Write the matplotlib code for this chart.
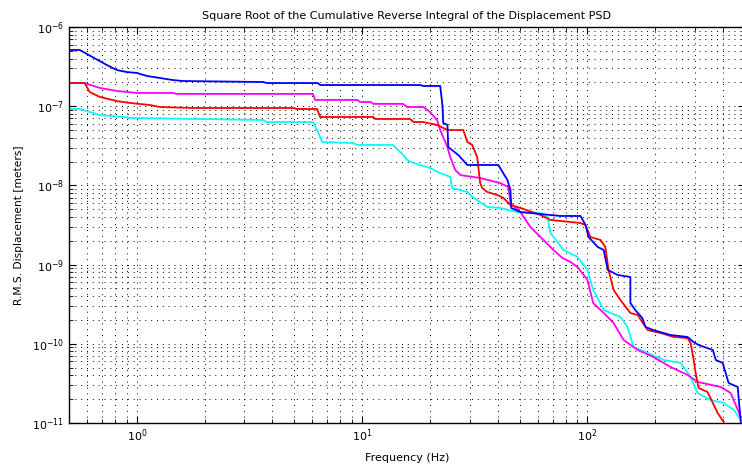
import matplotlib
matplotlib.use("Agg")
import matplotlib.pyplot as plt
from matplotlib.ticker import LogLocator, NullFormatter

# values (frequency in Hz, rms displacement in m)
blue_f = [0.5, 0.558, 0.736, 0.815, 0.903, 1.0, 1.107, 1.265, 1.445, 1.6, 3.63, 3.78, 6.37, 6.51,
          18.1, 18.7, 22.2, 22.7, 22.9, 23.9, 24.1, 26.7, 29.3, 40.2, 44.1, 45.5, 45.9, 50.4, 75.9,
          93.1, 98, 101, 111, 118, 123, 136, 155, 155, 163, 175, 181, 196, 234, 278, 296, 311,
          360, 371, 398, 423, 464, 479]
blue_v = [5.13e-7, 5.13e-7, 3.31e-7, 2.86e-7, 2.70e-7, 2.63e-7, 2.41e-7, 2.27e-7, 2.14e-7, 2.08e-7,
          2.02e-7, 1.96e-7, 1.96e-7, 1.85e-7, 1.85e-7, 1.80e-7, 1.80e-7, 1.035e-7, 6.14e-8, 5.79e-8,
          3.05e-8, 2.42e-8, 1.81e-8, 1.81e-8, 1.17e-8, 8.75e-9, 5.19e-9, 4.61e-9, 4.11e-9, 4.11e-9,
          3.16e-9, 2.23e-9, 1.67e-9, 1.53e-9, 8.55e-10, 7.40e-10, 6.97e-10, 3.27e-10, 2.67e-10,
          2.12e-10, 1.63e-10, 1.49e-10, 1.29e-10, 1.22e-10, 1.05e-10, 9.66e-11, 8.36e-11, 6.24e-11,
          5.73e-11, 3.20e-11, 2.85e-11, 1.03e-11]

red_f = [0.5, 0.587, 0.618, 0.685, 0.815, 0.93, 1.142, 1.265, 1.774, 4.94, 5.14, 6.31, 6.51, 11.2,
         11.4, 16.3, 16.9, 18.7, 21.5, 23.9, 28.1, 29.3, 30.8, 32.4, 33.4, 34.1, 35.9, 39.8, 42.4,
         45.5, 50.4, 61.8, 68.5, 93.1, 98, 103, 114, 120, 124, 130.6, 140, 155, 167, 175, 185, 211,
         241, 278, 287, 296, 302, 311, 341, 360, 378, 402]
red_v = [1.96e-7, 1.96e-7, 1.51e-7, 1.31e-7, 1.16e-7, 1.10e-7, 1.035e-7, 9.77e-8, 9.49e-8, 9.49e-8,
         9.22e-8, 9.22e-8, 7.31e-8, 7.31e-8, 6.90e-8, 6.90e-8, 6.31e-8, 6.31e-8, 5.79e-8, 5.00e-8,
         5.00e-8, 3.53e-8, 3.24e-8, 2.28e-8, 1.07e-8, 9.27e-9, 8.26e-9, 7.57e-9, 6.93e-9, 5.66e-9,
         5.19e-9, 4.23e-9, 3.66e-9, 3.35e-9, 3.16e-9, 2.23e-9, 2.05e-9, 1.67e-9, 8.55e-10, 4.78e-10,
         3.57e-10, 2.45e-10, 2.31e-10, 1.88e-10, 1.49e-10, 1.37e-10, 1.22e-10, 1.18e-10, 1.02e-10,
         6.24e-11, 4.28e-11, 2.77e-11, 2.46e-11, 1.79e-11, 1.34e-11, 1.03e-11]

magenta_f = [0.5, 0.587, 0.685, 0.815, 1.0, 1.445, 1.506, 6.05, 6.18, 9.5, 9.8, 10.9, 11.2, 15.2,
             15.85, 18.7, 20.0, 21.5, 22.2, 23.9, 24.6, 25.9, 27.3, 33.4, 41.0, 44.5, 45.5, 50.4,
             55.8, 61.8, 70.6, 77.4, 84.0, 90.3, 100, 106, 118, 130.6, 144.5, 167, 196, 234, 278,
             308, 390, 432, 459, 479]
magenta_v = [1.96e-7, 1.96e-7, 1.70e-7, 1.56e-7, 1.47e-7, 1.47e-7, 1.43e-7, 1.43e-7, 1.20e-7, 1.20e-7,
             1.13e-7, 1.13e-7, 1.07e-7, 1.07e-7, 9.77e-8, 9.77e-8, 8.45e-8, 6.70e-8, 5.00e-8, 3.05e-8,
             2.28e-8, 1.56e-8, 1.35e-8, 1.24e-8, 1.07e-8, 9.55e-9, 6.00e-9, 4.61e-9, 2.98e-9, 2.23e-9,
             1.53e-9, 1.21e-9, 1.08e-9, 9.33e-10, 6.39e-10, 3.27e-10, 2.45e-10, 1.83e-10, 1.12e-10,
             8.36e-11, 6.81e-11, 5.09e-11, 4.04e-11, 3.30e-11, 2.85e-11, 2.39e-11, 1.59e-11, 1.19e-11]

cyan_f = [0.5, 0.558, 0.618, 0.685, 0.96, 3.63, 3.78, 6.05, 6.37, 6.64, 9.12, 9.5, 13.7, 15.2, 15.85,
          16.9, 20.0, 22.2, 24.6, 25.1, 29.3, 30.8, 33.4, 35.9, 41.0, 48.8, 61.8, 66.4, 68.5, 78.2,
          90.3, 100, 106, 118, 140, 150.6, 160, 185, 218, 259, 287, 308, 352, 402, 446, 479]
cyan_v = [9.22e-8, 9.22e-8, 8.45e-8, 7.74e-8, 7.10e-8, 6.70e-8, 6.31e-8, 6.31e-8, 4.72e-8, 3.53e-8,
          3.43e-8, 3.24e-8, 3.24e-8, 2.42e-8, 2.09e-8, 1.92e-8, 1.66e-8, 1.43e-8, 1.28e-8, 9.27e-9,
          8.26e-9, 7.14e-9, 6.17e-9, 5.34e-9, 5.19e-9, 4.61e-9, 4.48e-9, 3.99e-9, 2.51e-9, 1.53e-9,
          1.25e-9, 8.55e-10, 4.78e-10, 2.67e-10, 2.18e-10, 1.63e-10, 9.12e-11, 7.66e-11, 6.24e-11,
          5.73e-11, 3.81e-11, 2.39e-11, 1.95e-11, 1.79e-11, 1.46e-11, 1.09e-11]

x_ticks = [1, 10, 100]
y_ticks = [1e-11, 1e-10, 1e-9, 1e-8, 1e-7, 1e-6]

fig = plt.figure(figsize=(7.42, 4.66), dpi=100)
# the original axes runs a few pixels past the right edge of the picture
ax = fig.add_axes([69/742, 1 - 423/466, 676/742, 396/466])

ax.loglog(cyan_f, cyan_v, color=(0, 1, 1), lw=1.3)
ax.loglog(magenta_f, magenta_v, color=(1, 0, 1), lw=1.3)
ax.loglog(red_f, red_v, color=(1, 0, 0), lw=1.3)
ax.loglog(blue_f, blue_v, color=(0, 0, 1), lw=1.3)

ax.set_xticks(x_ticks)
ax.set_yticks(y_ticks)
ax.xaxis.set_minor_locator(LogLocator(base=10, subs=range(2, 10)))
ax.yaxis.set_minor_locator(LogLocator(base=10, subs=range(2, 10)))
ax.xaxis.set_minor_formatter(NullFormatter())
ax.yaxis.set_minor_formatter(NullFormatter())
ax.set_xlim(0.5, 500)
ax.set_ylim(1e-11, 1e-6)

ax.grid(True, which='both', color='k', linestyle=(0, (1, 5)), lw=0.7)
ax.tick_params(which='both', direction='in', top=True, right=True, labelsize=8, colors='k')
ax.tick_params(which='major', length=5, width=0.8)
ax.tick_params(which='minor', length=3, width=0.6)
for s in ax.spines.values():
    s.set_linewidth(1.0)

ax.set_title('Square Root of the Cumulative Reverse Integral of the Displacement PSD', fontsize=8, pad=6)
ax.set_xlabel('Frequency (Hz)', fontsize=8, labelpad=6)
ax.set_ylabel('R.M.S. Displacement [meters]', fontsize=7.7, labelpad=6)

fig.savefig('out.png', dpi=100)
